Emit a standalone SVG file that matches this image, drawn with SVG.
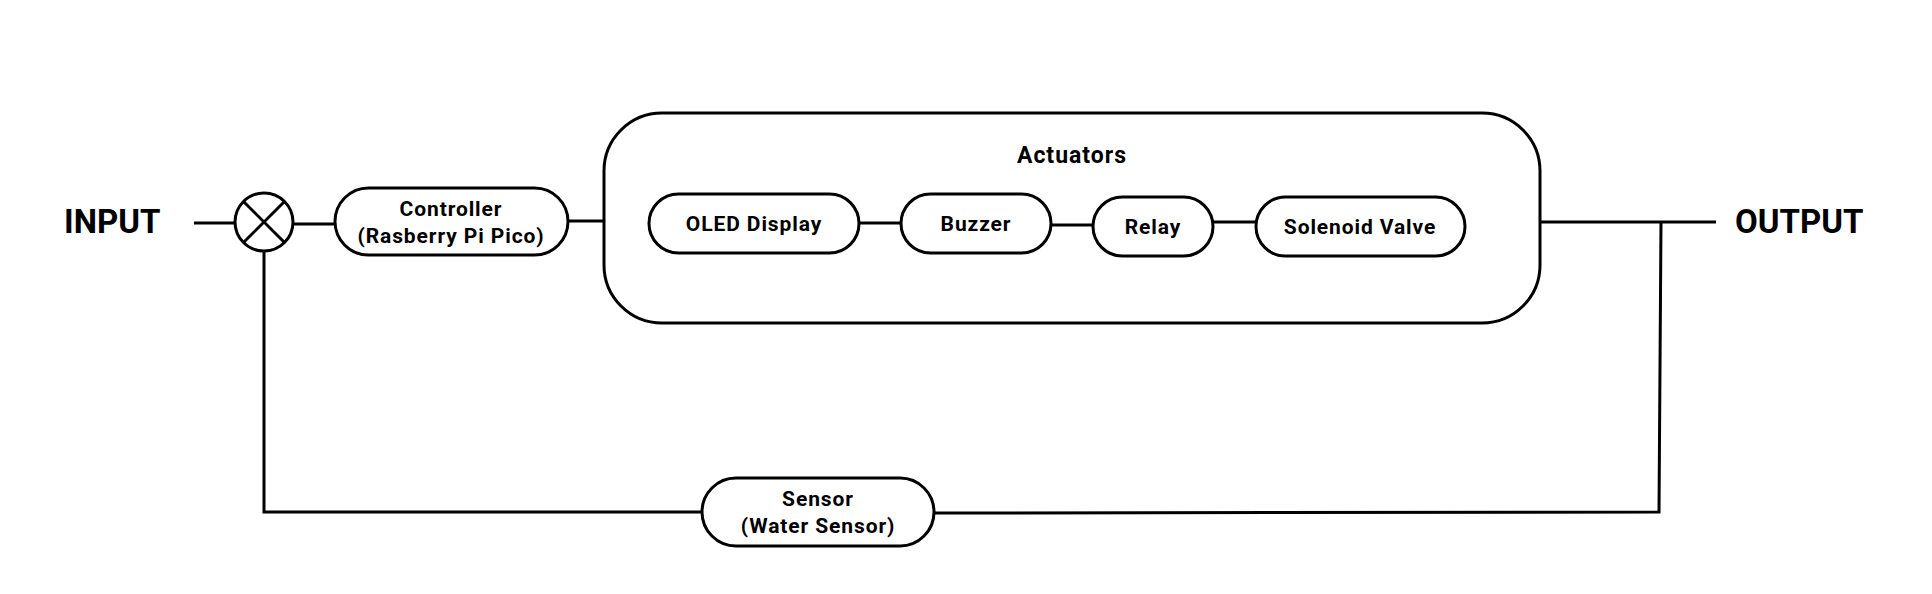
<svg xmlns="http://www.w3.org/2000/svg" width="1932" height="594" viewBox="0 0 1932 594">
<style>
.box{fill:#fff;stroke:#000;stroke-width:3}
.ln{fill:none;stroke:#000;stroke-width:3}
.lbl{font-family:Roboto,"Liberation Sans",sans-serif;font-weight:700;font-size:21px;letter-spacing:0.9px;text-anchor:middle;fill:#000}
.big{font-family:Roboto,"Liberation Sans",sans-serif;font-weight:700;font-size:33px;fill:#000}
</style>
<rect width="1932" height="594" fill="#fff"/>
<g id="actuators">
<rect class="box" x="604" y="113" width="936" height="210" rx="58"/>
<text class="lbl" x="1072" y="163" style="font-size:23px;letter-spacing:1px">Actuators</text>
</g>
<g id="connectors">
<line class="ln" x1="194" y1="223" x2="235" y2="223"/>
<line class="ln" x1="294" y1="224" x2="336" y2="224"/>
<line class="ln" x1="568" y1="221" x2="604" y2="221"/>
<line class="ln" x1="859" y1="223" x2="901" y2="223"/>
<line class="ln" x1="1051" y1="225" x2="1093" y2="225"/>
<line class="ln" x1="1213" y1="222" x2="1256" y2="222"/>
<line class="ln" x1="1540" y1="222" x2="1716" y2="222"/>
<polyline class="ln" points="1661,222 1659,512 934,513"/>
<polyline class="ln" points="264,251 264,512 702,512"/>
</g>
<g id="input"><text class="big" x="64" y="233">INPUT</text></g>
<g id="output"><text class="big" x="1735" y="233">OUTPUT</text></g>
<g id="sum">
<circle class="box" cx="264" cy="222" r="29"/>
<line class="ln" x1="243.5" y1="201.5" x2="284.5" y2="242.5"/>
<line class="ln" x1="284.5" y1="201.5" x2="243.5" y2="242.5"/>
</g>
<g id="controller">
<rect class="box" x="335" y="188" width="233" height="67" rx="33.5"/>
<text class="lbl" x="451" y="216">Controller</text>
<text class="lbl" x="451" y="243">(Rasberry Pi Pico)</text>
</g>
<g id="oled">
<rect class="box" x="649" y="194" width="210" height="59" rx="29.5"/>
<text class="lbl" x="754" y="231">OLED Display</text>
</g>
<g id="buzzer">
<rect class="box" x="901" y="194" width="150" height="59" rx="29.5"/>
<text class="lbl" x="976" y="231">Buzzer</text>
</g>
<g id="relay">
<rect class="box" x="1093" y="197" width="120" height="59" rx="29.5"/>
<text class="lbl" x="1153" y="234">Relay</text>
</g>
<g id="solenoid">
<rect class="box" x="1256" y="197" width="209" height="59" rx="29.5"/>
<text class="lbl" x="1360" y="234">Solenoid Valve</text>
</g>
<g id="sensor">
<rect class="box" x="702" y="478" width="232" height="68" rx="34"/>
<text class="lbl" x="818" y="506">Sensor</text>
<text class="lbl" x="818" y="533">(Water Sensor)</text>
</g>
</svg>
